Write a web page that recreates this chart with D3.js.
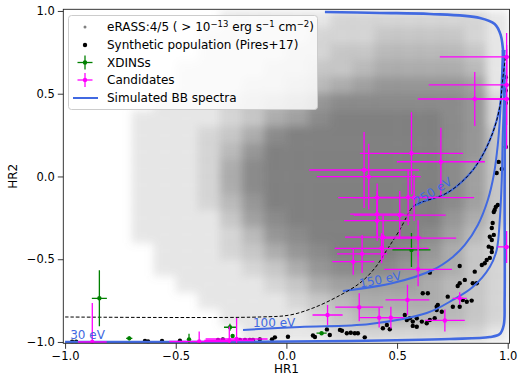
<!DOCTYPE html>
<html>
<head>
<meta charset="utf-8">
<script src="https://cdn.jsdelivr.net/npm/d3@7"></script>
<style>
  body { margin: 0; background: #fff; }
  svg { display: block; font-family: "DejaVu Sans", sans-serif; }
</style>
</head>
<body>
<svg></svg>
<script>
// eRASS:4/5 source density, 0.1 x 0.1 bins
// rows: HR2 from 1.0 (top) down to -1.0, columns: HR1 from -1.0 to 1.0, 0 = empty .. 9 = solid
const densityRows = [
  "00000001111122222221",
  "00000011111222333321",
  "00000011112233444431",
  "00000111122334555541",
  "00000111223456777761",
  "00001112345788888872",
  "00011112356899999872",
  "00011123589999999873",
  "00011124799999999873",
  "00011125899999999863",
  "00011125899999999863",
  "00011124799999999863",
  "00011113689999999753",
  "00011112478999998642",
  "00001112357899987532",
  "00001111235788876532",
  "00000111123566665432",
  "00000011112345555432",
  "00000001111234444432",
  "00000000111122222221"
];

// synthetic population (Pires+17): [HR1, HR2]
const synthetic = [
  [-0.968,-0.998],[-0.950,-0.998],[-0.639,-0.994],[-0.625,-0.997],[-0.562,-0.994],[-0.481,-0.992],
  [-0.309,-0.988],[-0.287,-0.984],[-0.210,-0.988],[-0.187,-0.988],[-0.165,-0.988],[-0.151,-0.988],
  [-0.120,-0.984],[-0.065,-0.984],[-0.052,-0.972],[0.007,-0.968],[0.120,-0.961],[0.129,-0.970],
  [0.183,-0.924],[0.196,-0.958],[0.242,-0.927],[0.251,-0.932],[0.273,-0.947],[0.291,-0.944],
  [0.309,-0.947],[0.323,-0.947],[0.354,-0.972],[0.436,-0.917],[0.454,-0.897],[0.467,-0.923],
  [0.535,-0.837],[0.544,-0.867],[0.558,-0.857],[0.571,-0.877],[0.589,-0.857],[0.612,-0.877],
  [0.571,-0.903],[0.589,-0.908],[0.634,-0.887],[0.648,-0.867],[0.670,-0.857],[0.679,-0.787],
  [0.684,-0.776],[0.679,-0.807],[0.702,-0.817],[0.729,-0.726],[0.752,-0.787],[0.783,-0.787],
  [0.797,-0.746],[0.815,-0.757],[0.837,-0.750],[0.616,-0.706],[0.639,-0.706],[0.648,-0.581],
  [0.774,-0.662],[0.783,-0.645],[0.783,-0.541],[0.806,-0.625],[0.842,-0.645],[0.860,-0.645],
  [0.851,-0.575],[0.883,-0.535],[0.896,-0.524],[0.905,-0.505],[0.928,-0.456],[0.919,-0.492],
  [0.914,-0.424],[0.928,-0.432],[0.928,-0.384],[0.919,-0.364],[0.937,-0.353],[0.928,-0.311],
  [0.932,-0.281],[0.937,-0.215],[0.941,-0.202],[0.955,-0.172],[0.946,-0.184],[0.950,0.021],
  [0.959,0.088],[0.973,0.045],[0.991,0.178],[0.991,0.444],[0.991,0.52],[0.991,0.60]
];

// XDINSs: HR1, HR1 error, HR2, HR2 error
const xdinsHR1    = [-0.845, -0.710, -0.440, -0.255, -0.243, 0.159, 0.565];
const xdinsHR1Err = [0.034, 0.014, 0.005, 0.027, 0.005, 0.023, 0.086];
const xdinsHR2    = [-0.736, -0.978, -0.984, -0.911, -0.964, -0.947, -0.444];
const xdinsHR2Err = [0.169, 0.012, 0.033, 0.021, 0.008, 0.006, 0.103];

// candidates: HR1, HR1 error, HR2, HR2 error
const candHR1    = [0.995, 0.995, 0.995, 0.851, 0.565, 0.698, 0.351, 0.372, 0.550, 0.577, 0.410, 0.512,
                    0.410, 0.410, 0.437, 0.595, 0.342, 0.430, 0.302, 0.595, 0.547, 0.329, 0.186, 0.419,
                    0.472, 0.716, 0.783, -0.877, -0.394, -0.258, -0.225, 0.995];
const candHR1Err = [0.302, 0.352, 0.135, 0.257, 0.233, 0.199, 0.248, 0.235, 0.158, 0.271, 0.176, 0.208,
                    0.122, 0.149, 0.172, 0.172, 0.113, 0.212, 0.095, 0.153, 0.099, 0.108, 0.068, 0.090,
                    0.059, 0.090, 0.032, 0.065, 0.135, 0.113, 0.140, 0.041];
const candHR2    = [0.722, 0.553, 0.468, 0.468, 0.140, 0.089, 0.039, -0.001, -0.126, -0.128, -0.128, -0.233,
                    -0.228, -0.267, -0.367, -0.373, -0.468, -0.434, -0.515, -0.561, -0.746, -0.790, -0.837, -0.853,
                    -0.853, -0.870, -0.736, -1.000, -0.997, -0.991, -0.982, -0.426];
const candHR2Err = [0.145, 0.242, 0.302, 0.163, 0.248, 0.205, 0.230, 0.199, 0.169, 0.139, 0.085, 0.145,
                    0.139, 0.121, 0.133, 0.109, 0.115, 0.091, 0.079, 0.103, 0.091, 0.085, 0.060, 0.060,
                    0.066, 0.066, 0.036, 0.236, 0.060, 0.085, 0.127, 0.097];

// simulated blackbody tracks: [HR1, HR2]
const bb30 = [[-1,-1],[-0.391,-1],[0.287,-0.994],[0.738,-0.982],[0.919,-0.970],[0.964,-0.952],
  [0.982,-0.897],[0.986,-0.746],[0.986,-0.142],[0.986,0.462],[0.982,0.704],[0.968,0.855],
  [0.941,0.921],[0.874,0.958],[0.648,0.982],[0.422,0.988],[0.174,0.994]];
const bb100 = [[-0.196,-0.927],[0.061,-0.909],[0.377,-0.891],[0.634,-0.825],[0.752,-0.746],
  [0.842,-0.668],[0.919,-0.547],[0.950,-0.444],[0.964,-0.263],[0.973,-0.021],[0.977,0.221],
  [0.982,0.462],[0.982,0.704]];
const bb150 = [[0.255,-0.692],[0.481,-0.644],[0.661,-0.565],[0.752,-0.486],[0.806,-0.414],
  [0.865,-0.293],[0.910,-0.142],[0.937,0.009],[0.955,0.190],[0.964,0.341],[0.973,0.583],[0.977,0.764]];
const bb250 = [[0.571,-0.184],[0.603,-0.160],[0.725,-0.100],[0.815,-0.003],[0.874,0.100],
  [0.932,0.263],[0.964,0.420],[0.977,0.583],[0.986,0.764]];
// dashed selection line
const cutLine = [[-1,-0.849],[-0.120,-0.849],[0.016,-0.837],[0.120,-0.795],[0.228,-0.728],
  [0.332,-0.644],[0.400,-0.553],[0.454,-0.444],[0.512,-0.323],[0.571,-0.184],[0.603,-0.160],
  [0.725,-0.100],[0.815,-0.003],[0.874,0.100],[0.932,0.263],[0.964,0.420],[0.977,0.583],[0.991,0.734]];

const bbLabels = [
  {text: '30 eV',  hr1: -0.977, hr2: -0.982, rot: 0},
  {text: '100 eV', hr1: -0.151, hr2: -0.908, rot: 0},
  {text: '150 eV', hr1: 0.334,  hr2: -0.672, rot: -11},
  {text: '250 eV', hr1: 0.590,  hr2: -0.180, rot: -32}
];

const tickValues = [-1, -0.5, 0, 0.5, 1];
const minorTicks = d3.range(-10, 11).map(d => d / 10);

// ---- layout ----
const size = {w: 519, h: 378};
const plot = {l: 63.3, r: 509.5, t: 9.3, b: 343.3};
const blue = '#4169e1';

const svg = d3.select('svg').attr('width', size.w).attr('height', size.h);

const x = d3.scaleLinear().domain([-1.008, 1.008]).range([plot.l, plot.r]);
const y = d3.scaleLinear().domain([-1.008, 1.010]).range([plot.b, plot.t]);

const defs = svg.append('defs');
defs.append('clipPath').attr('id', 'clip')
  .append('rect')
  .attr('x', plot.l).attr('y', plot.t)
  .attr('width', plot.r - plot.l).attr('height', plot.b - plot.t);
defs.append('filter').attr('id', 'soft')
  .attr('x', -0.05).attr('y', -0.05).attr('width', 1.1).attr('height', 1.1)
  .append('feGaussianBlur').attr('stdDeviation', 4.5);

const g = svg.append('g').attr('clip-path', 'url(#clip)');

// eRASS density cloud
const cells = [];
densityRows.forEach((row, i) => {
  row.split('').forEach((v, j) => {
    cells.push({hr1: -1 + j * 0.1, hr2: 1 - (i + 1) * 0.1, v: +v});
  });
});
const shade = d3.scalePow().exponent(0.75).domain([0, 9]).range([0, 1]);
g.append('g').attr('filter', 'url(#soft)')
  .selectAll('rect')
  .data(cells.filter(c => c.v > 0))
  .join('rect')
  .attr('x', d => x(d.hr1))
  .attr('y', d => y(d.hr2 + 0.1))
  .attr('width', x(0.1) - x(0) + 0.4)
  .attr('height', y(0) - y(0.1) + 0.4)
  .attr('fill', '#808080')
  .attr('fill-opacity', d => shade(d.v));

// synthetic population
g.append('g').selectAll('circle')
  .data(synthetic)
  .join('circle')
  .attr('cx', d => x(d[0]))
  .attr('cy', d => y(d[1]))
  .attr('r', 2.2)
  .attr('fill', 'black');

// blackbody tracks
const line = d3.line().x(d => x(d[0])).y(d => y(d[1])).curve(d3.curveCatmullRom.alpha(0.5));
[bb30, bb100, bb150, bb250].forEach((track, i) => {
  g.append('path')
    .attr('d', line(track))
    .attr('fill', 'none')
    .attr('stroke', blue)
    .attr('stroke-width', i === 0 ? 2.6 : 2);
});
g.append('path')
  .attr('d', line(cutLine))
  .attr('fill', 'none')
  .attr('stroke', 'black')
  .attr('stroke-width', 1)
  .attr('stroke-dasharray', '3.5,2');

// error bars
function drawErrorbars(hr1, hr1Err, hr2, hr2Err, color) {
  const pts = hr1.map((d, i) => ({hr1: d, ex: hr1Err[i], hr2: hr2[i], ey: hr2Err[i]}));
  const eg = g.append('g');
  eg.selectAll('line.h').data(pts).join('line').attr('class', 'h')
    .attr('x1', d => x(d.hr1 - d.ex)).attr('x2', d => x(d.hr1 + d.ex))
    .attr('y1', d => y(d.hr2)).attr('y2', d => y(d.hr2))
    .attr('stroke', color).attr('stroke-width', 1.3);
  eg.selectAll('line.v').data(pts).join('line').attr('class', 'v')
    .attr('x1', d => x(d.hr1)).attr('x2', d => x(d.hr1))
    .attr('y1', d => y(d.hr2 - d.ey)).attr('y2', d => y(d.hr2 + d.ey))
    .attr('stroke', color).attr('stroke-width', 1.3);
  eg.selectAll('circle').data(pts).join('circle')
    .attr('cx', d => x(d.hr1)).attr('cy', d => y(d.hr2))
    .attr('r', 2.2).attr('fill', color);
}
drawErrorbars(xdinsHR1, xdinsHR1Err, xdinsHR2, xdinsHR2Err, 'green');
drawErrorbars(candHR1, candHR1Err, candHR2, candHR2Err, '#ff00ff');

// temperature labels
svg.append('g').selectAll('text')
  .data(bbLabels)
  .join('text')
  .attr('transform', d => 'translate(' + x(d.hr1) + ',' + y(d.hr2) + ') rotate(' + d.rot + ')')
  .attr('fill', blue)
  .attr('font-size', 12)
  .text(d => d.text);

// axes
const fmt = d3.format('.1f');
const xAxis = svg.append('g').attr('transform', 'translate(0,' + plot.b + ')');
xAxis.call(d3.axisBottom(x).tickValues(minorTicks).tickSize(3).tickFormat(''));
xAxis.call(d3.axisBottom(x).tickValues(tickValues).tickSize(5.5).tickPadding(3).tickFormat(fmt));
const yAxis = svg.append('g').attr('transform', 'translate(' + plot.l + ',0)');
yAxis.call(d3.axisLeft(y).tickValues(minorTicks).tickSize(3).tickFormat(''));
yAxis.call(d3.axisLeft(y).tickValues(tickValues).tickSize(5.5).tickPadding(3).tickFormat(fmt));
svg.selectAll('.domain').remove();
svg.selectAll('.tick text').attr('font-size', 11.5).attr('font-family', '"DejaVu Sans", sans-serif').attr('fill', 'black');
svg.selectAll('.tick line').attr('stroke', '#222').attr('stroke-width', 0.9);

// frame
svg.append('rect')
  .attr('x', plot.l).attr('y', plot.t)
  .attr('width', plot.r - plot.l).attr('height', plot.b - plot.t)
  .attr('fill', 'none').attr('stroke', '#222').attr('stroke-width', 0.9);

// axis titles
svg.append('text')
  .attr('x', (plot.l + plot.r) / 2).attr('y', 373)
  .attr('text-anchor', 'middle').attr('font-size', 12)
  .text('HR1');
svg.append('text')
  .attr('transform', 'translate(17,' + ((plot.t + plot.b) / 2) + ') rotate(-90)')
  .attr('text-anchor', 'middle').attr('font-size', 12)
  .text('HR2');

// legend
const leg = svg.append('g');
leg.append('rect')
  .attr('x', 68.5).attr('y', 15.5).attr('width', 249).attr('height', 94).attr('rx', 3)
  .attr('fill', 'white').attr('fill-opacity', 0.8)
  .attr('stroke', '#cccccc').attr('stroke-width', 1);

const rowY = [27, 45, 62.5, 80, 98];
const mx = 85;
leg.append('circle').attr('cx', mx).attr('cy', rowY[0]).attr('r', 1.5).attr('fill', '#808080');
leg.append('circle').attr('cx', mx).attr('cy', rowY[1]).attr('r', 2.2).attr('fill', 'black');
[['green', rowY[2]], ['#ff00ff', rowY[3]]].forEach(([c, yy]) => {
  leg.append('line').attr('x1', mx - 7.5).attr('x2', mx + 7.5).attr('y1', yy).attr('y2', yy)
    .attr('stroke', c).attr('stroke-width', 1.3);
  leg.append('line').attr('x1', mx).attr('x2', mx).attr('y1', yy - 7).attr('y2', yy + 7)
    .attr('stroke', c).attr('stroke-width', 1.3);
  leg.append('circle').attr('cx', mx).attr('cy', yy).attr('r', 2.2).attr('fill', c);
});
leg.append('line').attr('x1', 73).attr('x2', 98).attr('y1', rowY[4]).attr('y2', rowY[4])
  .attr('stroke', blue).attr('stroke-width', 2);

const tx = 107;
const t0 = leg.append('text').attr('x', tx).attr('y', rowY[0] + 4.3).attr('font-size', 12);
t0.append('tspan').text('eRASS:4/5 ( > 10');
t0.append('tspan').attr('dy', -4.5).attr('font-size', 8.5).text('\u221213');
t0.append('tspan').attr('dy', 4.5).text(' erg s');
t0.append('tspan').attr('dy', -4.5).attr('font-size', 8.5).text('\u22121');
t0.append('tspan').attr('dy', 4.5).text(' cm');
t0.append('tspan').attr('dy', -4.5).attr('font-size', 8.5).text('\u22122');
t0.append('tspan').attr('dy', 4.5).text(')');

['Synthetic population (Pires+17)', 'XDINSs', 'Candidates', 'Simulated BB spectra'].forEach((s, i) => {
  leg.append('text').attr('x', tx).attr('y', rowY[i + 1] + 4.3).attr('font-size', 12).text(s);
});
</script>
</body>
</html>
